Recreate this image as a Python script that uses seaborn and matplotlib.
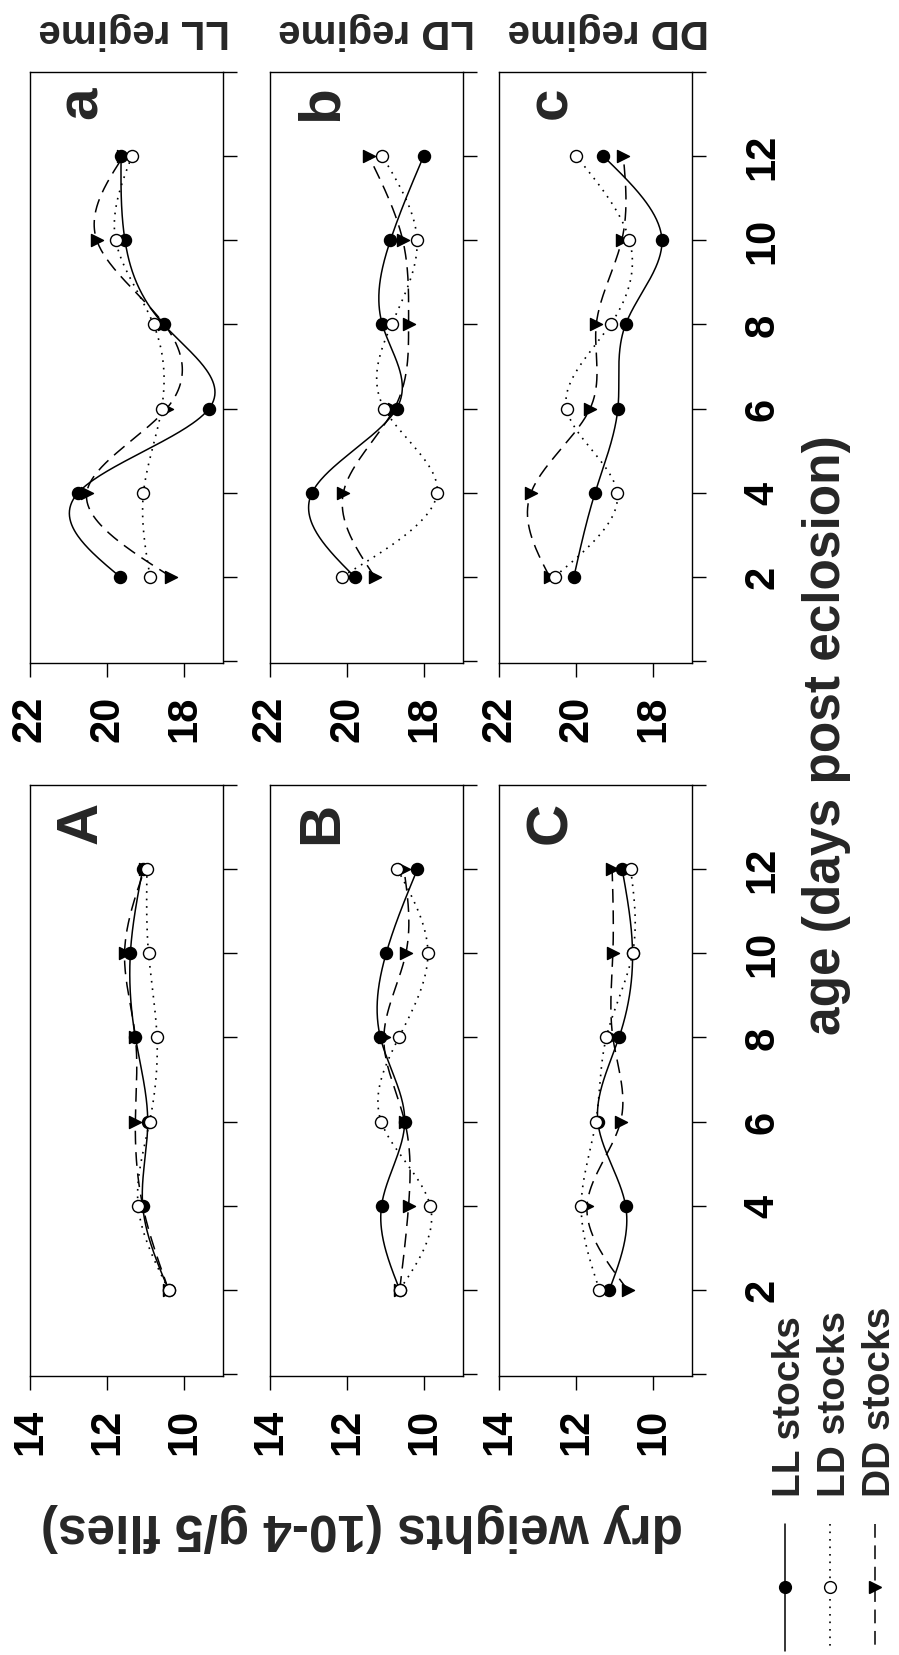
import numpy as np
import matplotlib
matplotlib.use("Agg")
import matplotlib.pyplot as plt
import seaborn as sns

# ---------------- data ----------------
ages = [2, 4, 6, 8, 10, 12]
age_ticks = [0, 2, 4, 6, 8, 10, 12, 14]
age_ticklabels = ["", "2", "4", "6", "8", "10", "12", ""]
upper_wticks = [22, 20, 18]
lower_wticks = [14, 12, 10]
stocks = ["LL stocks", "LD stocks", "DD stocks"]
regimes = ["LL regime", "LD regime", "DD regime"]
upper_letters = ["a", "b", "c"]
lower_letters = ["A", "B", "C"]
xlabel = "age (days post eclosion)"
ylabel = "dry weights (10-4 g/5 flies)"

# upper row (a, b, c)
a_LL = [19.67, 20.75, 17.36, 18.54, 19.54, 19.64]
a_LD = [18.89, 19.06, 18.59, 18.80, 19.78, 19.36]
a_DD = [18.35, 20.53, 18.46, 18.52, 20.27, 19.58]
b_LL = [19.81, 20.91, 18.72, 19.09, 18.88, 18.02]
b_LD = [20.14, 17.67, 19.04, 18.85, 18.19, 19.09]
b_DD = [19.29, 20.10, 18.78, 18.41, 18.56, 19.44]
c_LL = [20.06, 19.51, 18.92, 18.72, 17.78, 19.30]
c_LD = [20.56, 18.94, 20.25, 19.11, 18.62, 20.00]
c_DD = [20.69, 21.17, 19.64, 19.48, 18.82, 18.78]
# lower row (A, B, C)
A_LL = [10.41, 11.08, 10.95, 11.27, 11.40, 11.08]
A_LD = [10.41, 11.20, 10.90, 10.71, 10.93, 10.97]
A_DD = [10.41, 11.08, 11.27, 11.27, 11.55, 11.03]
B_LL = [10.64, 11.11, 10.51, 11.14, 10.99, 10.18]
B_LD = [10.64, 9.85, 11.12, 10.66, 9.91, 10.70]
B_DD = [10.64, 10.41, 10.51, 11.05, 10.48, 10.53]
C_LL = [11.14, 10.72, 11.44, 10.89, 10.54, 10.81]
C_LD = [11.40, 11.87, 11.49, 11.22, 10.54, 10.59]
C_DD = [10.67, 11.72, 10.85, 11.05, 11.05, 11.07]

upper = [(a_LL, a_LD, a_DD), (b_LL, b_LD, b_DD), (c_LL, c_LD, c_DD)]
lower = [(A_LL, A_LD, A_DD), (B_LL, B_LD, B_DD), (C_LL, C_LD, C_DD)]

# ---------------- style ----------------
sns.set_theme(style="white")
plt.rcParams["font.family"] = ["Liberation Sans", "DejaVu Sans"]
plt.rcParams["font.weight"] = "bold"
plt.rcParams["axes.linewidth"] = 1.0

W, H = 899, 1656
fig = plt.figure(figsize=(W / 100, H / 100), dpi=100)
fig.patch.set_facecolor("white")


def natural_spline(x, y, n=300):
    x = np.asarray(x, float)
    y = np.asarray(y, float)
    k = len(x)
    h = np.diff(x)
    A = np.zeros((k, k))
    r = np.zeros(k)
    A[0, 0] = A[-1, -1] = 1.0
    for i in range(1, k - 1):
        A[i, i - 1] = h[i - 1]
        A[i, i] = 2 * (h[i - 1] + h[i])
        A[i, i + 1] = h[i]
        r[i] = 6 * ((y[i + 1] - y[i]) / h[i] - (y[i] - y[i - 1]) / h[i - 1])
    M = np.linalg.solve(A, r)
    xf = np.linspace(x[0], x[-1], n)
    idx = np.clip(np.searchsorted(x, xf) - 1, 0, k - 2)
    x0, x1 = x[idx], x[idx + 1]
    hh = x1 - x0
    t0 = x1 - xf
    t1 = xf - x0
    yf = (M[idx] * t0 ** 3 / (6 * hh) + M[idx + 1] * t1 ** 3 / (6 * hh)
          + (y[idx] / hh - M[idx] * hh / 6) * t0
          + (y[idx + 1] / hh - M[idx + 1] * hh / 6) * t1)
    return xf, yf


styles = {
    "LL stocks": dict(ls="-", marker="o", face="black", lw=1.1),
    "LD stocks": dict(ls=(0, (1, 3.5)), marker="o", face="white", lw=1.2),
    "DD stocks": dict(ls=(0, (9, 5)), marker=">", face="black", lw=1.1),
}

col_left = [30, 270, 499]
col_w = 193
row_top = [73, 786]
row_h = 591


def add_ax(left, top, w, h):
    return fig.add_axes([left / W, 1 - (top + h) / H, w / W, h / H])


def draw_panel(ax, series, xlim, wticks):
    order = [0, 2, 1]  # LL, DD, then LD on top
    for j in order:
        name = stocks[j]
        st = styles[name]
        vals = series[j]
        af, wf = natural_spline(ages, vals)
        sns.lineplot(x=wf, y=af, ax=ax, orient="y", sort=False, estimator=None,
                     color="black", linewidth=st["lw"], linestyle=st["ls"],
                     legend=False, zorder=2)
    for j in order:
        name = stocks[j]
        st = styles[name]
        sns.scatterplot(x=series[j], y=ages, ax=ax, marker=st["marker"], s=75,
                        color=st["face"], edgecolor="black", linewidth=1.0,
                        legend=False, zorder=3)
    ax.set_xlim(*xlim)
    ax.set_ylim(-0.05, 14)
    ax.set_xticks(wticks)
    ax.set_xticklabels([str(t) for t in wticks])
    ax.set_yticks(age_ticks)
    ax.set_yticklabels(age_ticklabels)
    ax.yaxis.tick_right()
    ax.set_xlabel("")
    ax.set_ylabel("")
    ax.tick_params(axis="both", direction="out", length=10, width=1.0,
                   labelsize=30, colors="black")
    ax.tick_params(axis="x", labelrotation=90, pad=13, bottom=True)
    ax.tick_params(axis="y", labelrotation=90, pad=26.5, right=True, left=False)
    for lab in ax.get_yticklabels():
        lab.set_va("center")
        lab.set_fontweight("bold")
    for lab in ax.get_xticklabels():
        lab.set_fontweight("bold")
    for sp in ax.spines.values():
        sp.set_visible(True)
        sp.set_color("black")
        sp.set_linewidth(1.0)
    ax.set_facecolor("white")
    ax.grid(False)


def ftext(x, y, s, **kw):
    fig.text(x / W, 1 - y / H, s, **kw)


for i in range(3):
    axu = add_ax(col_left[i], row_top[0], col_w, row_h)
    draw_panel(axu, upper[i], (22, 17), upper_wticks)
    axl = add_ax(col_left[i], row_top[1], col_w, row_h)
    draw_panel(axl, lower[i], (14, 9), lower_wticks)
    ftext(col_left[i] + 67, 103, upper_letters[i], fontsize=42, fontweight="bold",
          rotation=90, rotation_mode="anchor", ha="center", va="baseline")
    ftext(col_left[i] + 67, 823, lower_letters[i], fontsize=42, fontweight="bold",
          rotation=90, rotation_mode="anchor", ha="center", va="baseline")

# regime titles (upside down)
for cx, name in zip([134, 377, 608], regimes):
    ftext(cx, 31, name, fontsize=29, fontweight="bold", rotation=180,
          ha="center", va="center")

# axis labels
ftext(840, 735, xlabel, fontsize=37, fontweight="bold", rotation=90,
      rotation_mode="anchor", ha="center", va="baseline")
ftext(362, 1528, ylabel, fontsize=37, fontweight="bold", rotation=180,
      ha="center", va="center")

# legend (vertical entries)
lax = fig.add_axes([0, 0, 1, 1])
lax.set_xlim(0, W)
lax.set_ylim(H, 0)
lax.axis("off")
lax.patch.set_alpha(0)
for lx, name in zip([785, 830, 875], stocks):
    st = styles[name]
    lax.plot([lx, lx], [1525, 1652], color="black", lw=st["lw"], ls=st["ls"])
    lax.plot([lx], [1588], marker=st["marker"], ms=8.5, mfc=st["face"],
             mec="black", mew=1.0, ls="none")
    ftext(lx + 15, 1497, name, fontsize=28, fontweight="bold", rotation=90,
          rotation_mode="anchor", ha="left", va="baseline")

fig.savefig("out.png", dpi=100, facecolor="white")
